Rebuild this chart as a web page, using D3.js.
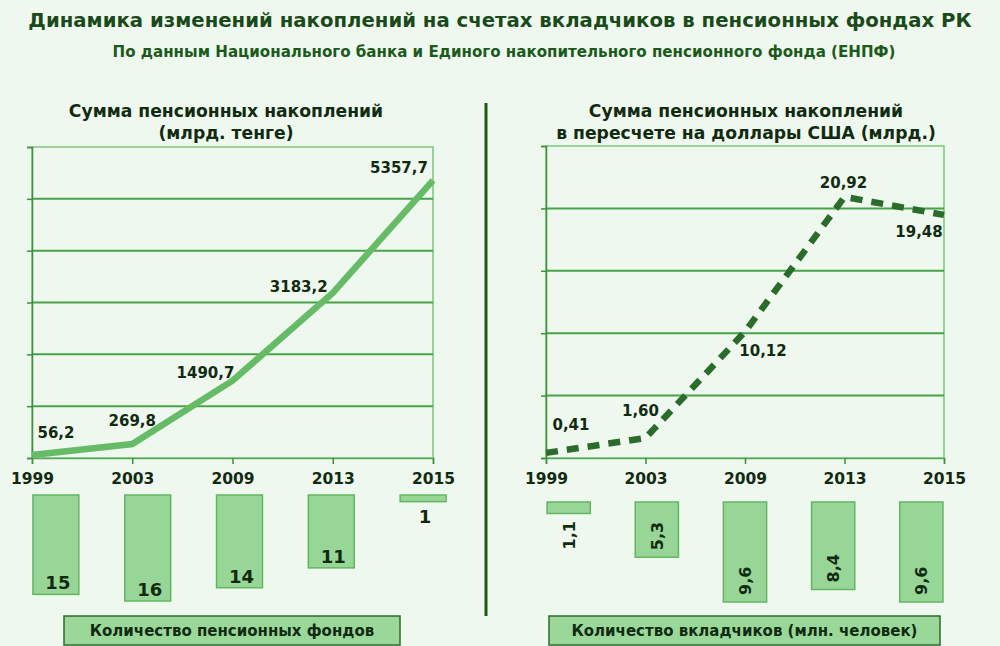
<!DOCTYPE html>
<html lang="ru">
  <head>
    <meta charset="utf-8">
    <title>Пенсионные накопления РК</title>
    <script src="https://d3js.org/d3.v7.min.js"></script>
    <style>
      body { margin: 0; background: #eff8ef; }
      svg { display: block; font-family: "DejaVu Sans", Verdana, sans-serif; font-weight: bold; }
    </style>
  </head>
  <body>
    <svg id="chart" width="1000" height="646"></svg>
    <script>
      // data
      var years = ["1999", "2003", "2009", "2013", "2015"];
      var tenge = [56.2, 269.8, 1490.7, 3183.2, 5357.7];      // млрд. тенге
      var usd = [0.41, 1.60, 10.12, 20.92, 19.48];            // млрд. долл.
      var funds = [15, 16, 14, 11, 1];                        // кол-во фондов
      var depositors = [1.1, 5.3, 9.6, 8.4, 9.6];             // млн. человек
      var tengeTicks = [0, 1000, 2000, 3000, 4000, 5000, 6000];
      var usdTicks = [0, 5, 10, 15, 20, 25];

      var ru = d3.formatLocale({decimal: ",", thousands: "", grouping: [3], currency: ["", ""]});
      var f1 = ru.format(".1f"), f2 = ru.format(".2f");

      var svg = d3.select("#chart");
      var dark = "#112b11", green = "#1d5a1d", grid = "#48a248";

      // titles
      svg.append("text").attr("x", 500).attr("y", 27).attr("text-anchor", "middle")
        .attr("font-size", 19.7).attr("fill", "#1a4a1a")
        .text("Динамика изменений накоплений на счетах вкладчиков в пенсионных фондах РК");
      svg.append("text").attr("x", 504).attr("y", 57).attr("text-anchor", "middle")
        .attr("font-size", 15.1).attr("fill", "#1c5a1c")
        .text("По данным Национального банка и Единого накопительного  пенсионного фонда (ЕНПФ)");

      // divider
      svg.append("line").attr("x1", 486).attr("x2", 486).attr("y1", 103).attr("y2", 616)
        .attr("stroke", green).attr("stroke-width", 3);

      function lineChart(opt) {
        var x = d3.scalePoint().domain(years).range([opt.x0, opt.x1]);
        var y = d3.scaleLinear().domain([0, opt.ticks[opt.ticks.length - 1]]).range([458, opt.top]);
        var g = svg.append("g");

        opt.title.forEach(function (t, i) {
          g.append("text").attr("x", opt.tx).attr("y", 117 + i * 22).attr("text-anchor", "middle")
            .attr("font-size", 17.2).attr("fill", dark).text(t);
        });

        // frame + grid
        g.append("rect").attr("x", opt.x0).attr("y", opt.top).attr("width", opt.x1 - opt.x0)
          .attr("height", 458 - opt.top).attr("fill", "none").attr("stroke", "#7cc67c").attr("stroke-width", 1.5);
        g.selectAll(".grid").data(opt.ticks.slice(1, -1)).enter().append("line")
          .attr("x1", opt.x0).attr("x2", opt.x1).attr("y1", y).attr("y2", y)
          .attr("stroke", grid).attr("stroke-width", 2);

        var ya = g.append("g").attr("transform", "translate(" + opt.x0 + ",0)")
          .call(d3.axisLeft(y).tickValues(opt.ticks).tickSize(5).tickFormat(""));
        var xa = g.append("g").attr("transform", "translate(0,458)")
          .call(d3.axisBottom(x).tickSize(6).tickPadding(6));
        [ya, xa].forEach(function (a) {
          a.selectAll("path,line").attr("stroke", "#3d8f3d").attr("stroke-width", 1.5);
        });
        xa.select(".domain").attr("stroke", "#5aa85a");
        xa.selectAll("text").attr("font-size", 15.5).attr("font-family", "DejaVu Sans")
          .attr("font-weight", "bold").attr("fill", dark).attr("dy", "0.9em");

        g.append("path").datum(opt.values)
          .attr("d", d3.line().x(function (d, i) { return x(years[i]); }).y(function (d) { return y(d); }))
          .attr("fill", "none").attr("stroke", opt.color).attr("stroke-width", 6.5)
          .attr("stroke-dasharray", opt.dash || null);

        g.selectAll(".lbl").data(opt.values).enter().append("text")
          .attr("x", function (d, i) { return x(years[i]) + opt.off[i][0]; })
          .attr("y", function (d, i) { return y(d) + opt.off[i][1]; })
          .attr("text-anchor", "middle").attr("font-size", 15).attr("fill", dark)
          .text(opt.fmt);
      }

      lineChart({
        x0: 32, x1: 433, top: 147, tx: 226, ticks: tengeTicks, values: tenge, fmt: f1,
        color: "#66bb66",
        title: ["Сумма пенсионных накоплений", "(млрд. тенге)"],
        off: [[24, -17], [0, -18], [-27, -3], [-34, -1], [-34, -7]]
      });
      lineChart({
        x0: 546, x1: 944, top: 146, tx: 746, ticks: usdTicks, values: usd, fmt: f2,
        color: "#2b6b2b", dash: "12,9",
        title: ["Сумма пенсионных накоплений", "в пересчете на доллары США (млрд.)"],
        off: [[25, -23], [-5, -22], [18, 24], [-1, -9], [-25, 22]]
      });

      // lower bar rows
      var bxL = d3.scaleBand().domain(years).range([10, 469]).paddingInner(0.5).paddingOuter(0.25);
      var bhL = d3.scaleLinear().domain([0, 16]).range([0, 106]);
      var gl = svg.append("g");
      gl.selectAll("rect").data(funds).enter().append("rect")
        .attr("x", function (d, i) { return bxL(years[i]); }).attr("y", 495)
        .attr("width", bxL.bandwidth()).attr("height", function (d) { return bhL(d); })
        .attr("fill", "#98d698").attr("stroke", "#62b662").attr("stroke-width", 1.5);
      gl.selectAll("text").data(funds).enter().append("text")
        .attr("x", function (d, i) { return bxL(years[i]) + bxL.bandwidth() / 2 + 2; })
        .attr("y", function (d) { var h = bhL(d); return h > 25 ? 495 + h - 5 : 495 + h + 21; })
        .attr("text-anchor", "middle").attr("font-size", 18).attr("fill", dark)
        .text(function (d) { return d; });

      var bxR = d3.scaleBand().domain(years).range([525, 965]).paddingInner(0.51).paddingOuter(0.25);
      var bhR = d3.scaleLinear().domain([0, 9.6]).range([0, 100]);
      var gr = svg.append("g");
      gr.selectAll("rect").data(depositors).enter().append("rect")
        .attr("x", function (d, i) { return bxR(years[i]); }).attr("y", 502)
        .attr("width", bxR.bandwidth()).attr("height", function (d) { return bhR(d); })
        .attr("fill", "#98d698").attr("stroke", "#62b662").attr("stroke-width", 1.5);
      gr.selectAll("text").data(depositors).enter().append("text")
        .attr("transform", function (d, i) {
          var h = bhR(d), cx = bxR(years[i]) + bxR.bandwidth() / 2 + 6;
          var yy = h > 25 ? 502 + h - 7 : 502 + h + 36;
          return "translate(" + cx + "," + yy + ") rotate(-90)";
        })
        .attr("text-anchor", "start").attr("font-size", 16).attr("fill", dark)
        .text(function (d) { return ru.format(".1f")(d); });

      // captions
      [{x: 64, w: 336, t: "Количество пенсионных фондов"},
       {x: 549, w: 391, t: "Количество вкладчиков (млн. человек)"}].forEach(function (c) {
        svg.append("rect").attr("x", c.x).attr("y", 616).attr("width", c.w).attr("height", 29)
          .attr("fill", "#9ad89a").attr("stroke", "#2d6a2d").attr("stroke-width", 1.5);
        svg.append("text").attr("x", c.x + c.w / 2).attr("y", 636).attr("text-anchor", "middle")
          .attr("font-size", 15).attr("fill", dark).text(c.t);
      });
    </script>
  </body>
</html>
